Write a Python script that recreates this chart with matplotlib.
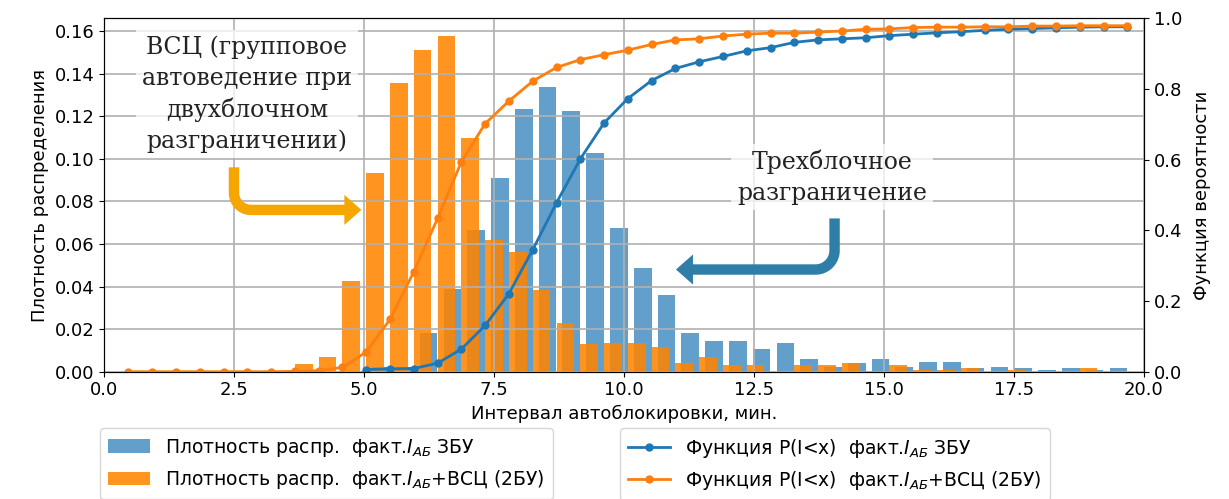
import numpy as np
import matplotlib
matplotlib.use("Agg")
import matplotlib.pyplot as plt
from matplotlib.lines import Line2D
from matplotlib.patches import Polygon
from matplotlib.transforms import IdentityTransform

# bin grid (left edges of the histogram bins, min)
bins = np.linspace(0.47, 19.68, 43)

# density, 3-block signalling (3БУ), one value per bin
dens_3bu = [0.0] * 10 + [0.002, 0.002, 0.0183, 0.039, 0.0667, 0.0909, 0.1234, 0.1336,
                         0.1223, 0.1028, 0.0677, 0.0489, 0.0362, 0.0181, 0.0145, 0.0145,
                         0.0106, 0.0135, 0.006, 0.0024, 0.004, 0.006, 0.0024, 0.0044,
                         0.0044, 0.0016, 0.0024, 0.0016, 0.0008, 0.0016, 0.0008, 0.0016]
# density, ВСЦ + 2-block (2БУ)
dens_2bu = [0.0] * 7 + [0.0034, 0.0070, 0.0425, 0.0934, 0.1355, 0.1511, 0.1575, 0.1100,
                        0.0620, 0.0563, 0.0386, 0.0230, 0.0128, 0.0136, 0.0136, 0.0117,
                        0.0040, 0.0069, 0.0030, 0.0030, 0.0, 0.0030, 0.0032, 0.0040,
                        0.0005, 0.0032, 0.0008, 0.0008, 0.0016, 0.0, 0.0008, 0.0, 0.0,
                        0.0016, 0.0]

# cumulative P(I<x); 3БУ starts at bin 10
cdf_3bu = [0.006, 0.008, 0.009, 0.024, 0.064, 0.131, 0.221, 0.345, 0.478, 0.602, 0.704,
           0.773, 0.824, 0.858, 0.877, 0.892, 0.908, 0.917, 0.932, 0.939, 0.942, 0.945,
           0.951, 0.955, 0.959, 0.962, 0.966, 0.969, 0.971, 0.973, 0.975, 0.976, 0.976]
cdf_2bu = [0.0] * 7 + [0.001, 0.003, 0.012, 0.056, 0.148, 0.283, 0.434, 0.594, 0.702,
                       0.766, 0.822, 0.861, 0.883, 0.897, 0.910, 0.926, 0.939, 0.942,
                       0.950, 0.955, 0.958, 0.958, 0.961, 0.964, 0.969, 0.970, 0.974,
                       0.975, 0.975, 0.976, 0.976, 0.978, 0.978, 0.979, 0.979, 0.979]

lbl_bar_3 = 'Плотность распр.  факт.$I_{АБ}$ ЗБУ'
lbl_bar_2 = 'Плотность распр.  факт.$I_{АБ}$+ВСЦ (2БУ)'
lbl_cdf_3 = 'Функция P(I<x)  факт.$I_{АБ}$ ЗБУ'
lbl_cdf_2 = 'Функция P(I<x)  факт.$I_{АБ}$+ВСЦ (2БУ)'

plt.rcParams['font.family'] = ['DejaVu Sans']
plt.rcParams['font.size'] = 13

fig = plt.figure(figsize=(12.29, 4.99), dpi=100)
fig.subplots_adjust(left=0.0846, right=0.9308, bottom=0.2551, top=0.9633)
ax1 = fig.add_subplot(111)

bw = 0.34
ax1.bar(bins[:-1] + 0.115, dens_3bu, width=bw, align='edge', color='#1f77b4', alpha=0.7,
        label=lbl_bar_3)
ax1.bar(bins[:-1], dens_2bu, width=bw, align='edge', color='#ff8400', alpha=0.87,
        label=lbl_bar_2)
ax1.set_xlim(0, 20)
ax1.set_ylim(0, 0.166)
ax1.set_yticks(np.arange(0, 0.161, 0.02))
ax1.set_xticks(np.arange(0, 20.1, 2.5))
ax1.grid(True, color='#b0b0b0', linewidth=1.2)
ax1.set_axisbelow(False)
ax1.set_xlabel('Интервал автоблокировки, мин.', labelpad=4)
ax1.set_ylabel('Плотность распределения')

ax2 = ax1.twinx()
ax2.plot(bins[10:], cdf_3bu, '-o', color='#1f77b4', lw=2, ms=5, label=lbl_cdf_3)
ax2.plot(bins, cdf_2bu, '-o', color='#ff7f0e', lw=2, ms=5, label=lbl_cdf_2)
ax2.set_ylim(0, 1.0)
ax2.set_ylabel('Функция вероятности', labelpad=8)

ax1.tick_params(labelsize=13)
ax2.tick_params(labelsize=13)

# annotations
txt_kw = dict(family='DejaVu Serif', fontsize=17, ha='center', va='center', linespacing=1.4,
              color='#222222', zorder=5,
              bbox=dict(facecolor='white', edgecolor='none', alpha=0.75, pad=4))
ax2.text(2.75, 0.785, 'ВСЦ (групповое\nавтоведение при\nдвухблочном\nразграничении)', **txt_kw)
ax2.text(14.0, 0.55, 'Трехблочное\nразграничение', **txt_kw)


def bent_arrow(top, tip, color, r=17, L=16, h=15, lw=7.5):
    tx, ty = ax1.transData.transform(top)
    px, py = ax1.transData.transform(tip)
    s = 1 if px > tx else -1
    cx, cy = tx + s * r, py + r
    th0 = np.pi if s == 1 else 0.0
    th1 = 1.5 * np.pi if s == 1 else -0.5 * np.pi
    th = np.linspace(th0, th1, 25)
    xs = [tx] + list(cx + r * np.cos(th)) + [px - s * L]
    ys = [ty] + list(cy + r * np.sin(th)) + [py]
    fig.add_artist(Line2D(xs, ys, color=color, lw=lw, solid_capstyle='butt',
                          transform=IdentityTransform(), zorder=6))
    head = [[px - s * (L + 1), py + h], [px, py], [px - s * (L + 1), py - h]]
    fig.add_artist(Polygon(head, closed=True, color=color, lw=0,
                           transform=IdentityTransform(), zorder=6))


bent_arrow((2.5, 0.096), (4.95, 0.076), '#f5a600')
bent_arrow((14.05, 0.072), (11.0, 0.048), '#2e7ea7', r=19)

# two legends below the axes
h1, l1 = ax1.get_legend_handles_labels()
h2, l2 = ax2.get_legend_handles_labels()
leg_kw = dict(loc='upper left', fontsize=13.5, handlelength=2.2, labelspacing=0.5,
              bbox_transform=fig.transFigure, borderpad=0.45, borderaxespad=0)
leg1 = ax2.legend(h1, l1, bbox_to_anchor=(0.0814, 0.142), **leg_kw)
ax2.add_artist(leg1)
ax2.legend(h2, l2, bbox_to_anchor=(0.5045, 0.142), **leg_kw)

fig.savefig('out.png', dpi=100)
